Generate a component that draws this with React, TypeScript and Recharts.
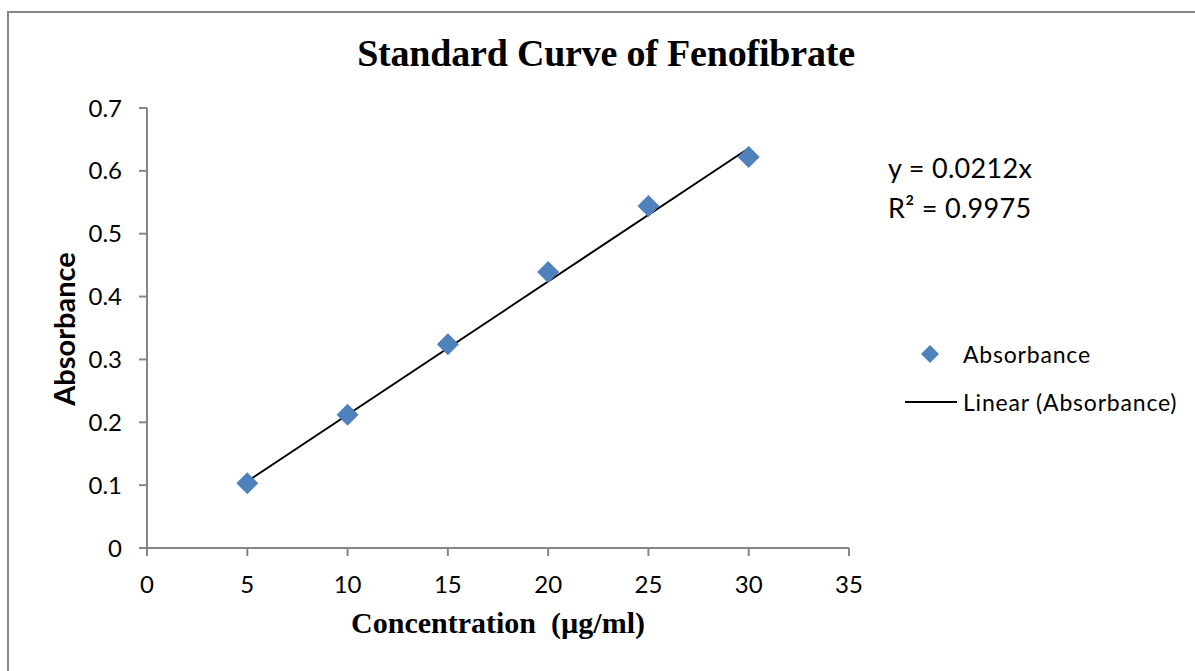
import React from 'react';
import { ScatterChart, Scatter, XAxis, YAxis, Legend } from 'recharts';

// measured points of the standard curve
const concentrations = [5, 10, 15, 20, 25, 30];
const absorbances = [0.103, 0.212, 0.324, 0.439, 0.544, 0.622];

// linear trendline end points (y = 0.0212x)
const trendConcentrations = [5, 30];
const trendAbsorbances = [0.106, 0.636];

const xTicks = [0, 5, 10, 15, 20, 25, 30, 35];
const yTicks = [0, 0.1, 0.2, 0.3, 0.4, 0.5, 0.6, 0.7];

const equationLines = ['y = 0.0212x', 'R² = 0.9975'];

const pointData = concentrations.map((c, i) => ({ x: c, y: absorbances[i] }));
const trendData = trendConcentrations.map((c, i) => ({ x: c, y: trendAbsorbances[i] }));

const BLUE = '#4F81BD';
const AXIS = '#868686';
const SANS = 'Lato, "Open Sans", sans-serif';
const SERIF = '"Liberation Serif", "DejaVu Serif", serif';

const Diamond = (props: any) => {
  const { cx, cy } = props;
  const r = 11;
  return (
    <polygon
      points={`${cx},${cy - r} ${cx + r},${cy} ${cx},${cy + r} ${cx - r},${cy}`}
      fill={BLUE}
    />
  );
};

const LegendBox = () => (
  <div style={{ fontFamily: SANS, fontSize: 23, color: '#000' }}>
    <div style={{ display: 'flex', alignItems: 'center', height: 30 }}>
      <svg width={58} height={30}>
        <polygon points="30,6 39,15 30,24 21,15" fill={BLUE} />
      </svg>
      <span style={{ marginLeft: 5, letterSpacing: 0.8 }}>Absorbance</span>
    </div>
    <div style={{ display: 'flex', alignItems: 'center', height: 30, marginTop: 18 }}>
      <svg width={58} height={30}>
        <line x1={5} y1={15} x2={57} y2={15} stroke="#000" strokeWidth={2} />
      </svg>
      <span style={{ marginLeft: 5, letterSpacing: 0.8 }}>Linear (Absorbance)</span>
    </div>
  </div>
);

export default function App() {
  return (
    <div style={{ position: 'absolute', left: 0, top: 0, width: 1195, height: 671, background: '#fff', overflow: 'hidden' }}>
      <div
        style={{
          position: 'absolute',
          left: 7,
          top: 11,
          width: 1220,
          height: 700,
          border: `2px solid ${AXIS}`,
          boxSizing: 'border-box',
        }}
      />
      <div
        style={{
          position: 'absolute',
          left: 0,
          width: 1212,
          top: 31,
          textAlign: 'center',
          fontFamily: SERIF,
          fontWeight: 'bold',
          fontSize: 38,
          letterSpacing: -0.2,
          color: '#000',
        }}
      >
        Standard Curve of Fenofibrate
      </div>
      <div
        style={{
          position: 'absolute',
          left: 888,
          top: 148,
          fontFamily: SANS,
          fontSize: 27,
          letterSpacing: 0.3,
          lineHeight: '40px',
          color: '#000',
        }}
      >
        {equationLines.map((l) => (
          <div key={l}>{l}</div>
        ))}
      </div>
      <div
        style={{
          position: 'absolute',
          left: 147,
          width: 702,
          top: 606,
          textAlign: 'center',
          fontFamily: SERIF,
          fontWeight: 'bold',
          fontSize: 30,
          whiteSpace: 'pre',
          color: '#000',
        }}
      >
        {'Concentration  (µg/ml)'}
      </div>
      <div
        style={{
          position: 'absolute',
          left: 63,
          top: 329,
          transform: 'translate(-50%, -50%) rotate(-90deg)',
          fontFamily: SANS,
          fontWeight: 'bold',
          fontSize: 29,
          whiteSpace: 'nowrap',
          color: '#000',
        }}
      >
        Absorbance
      </div>
      <div style={{ position: 'absolute', left: 0, top: 0 }}>
        <ScatterChart width={1195} height={671} margin={{ top: 108, right: 346, bottom: 73, left: 67 }}>
          <XAxis
            type="number"
            dataKey="x"
            domain={[0, 35]}
            ticks={xTicks}
            interval={0}
            height={50}
            tickSize={8}
            tickMargin={20}
            stroke={AXIS}
            strokeWidth={2}
            tick={{ fill: '#000', fontFamily: SANS, fontSize: 24 }}
          />
          <YAxis
            type="number"
            dataKey="y"
            domain={[0, 0.7]}
            ticks={yTicks}
            interval={0}
            width={80}
            tickSize={8}
            tickMargin={17}
            stroke={AXIS}
            strokeWidth={2}
            tick={{ fill: '#000', fontFamily: SANS, fontSize: 24 }}
          />
          <Legend
            layout="vertical"
            align="center"
            verticalAlign="middle"
            content={LegendBox}
            wrapperStyle={{ left: 900, top: 339, width: 290 }}
          />
          <Scatter
            name="Linear (Absorbance)"
            data={trendData}
            line={{ stroke: '#000', strokeWidth: 2 }}
            shape={() => <g />}
            isAnimationActive={false}
          />
          <Scatter name="Absorbance" data={pointData} shape={Diamond} isAnimationActive={false} />
        </ScatterChart>
      </div>
    </div>
  );
}
